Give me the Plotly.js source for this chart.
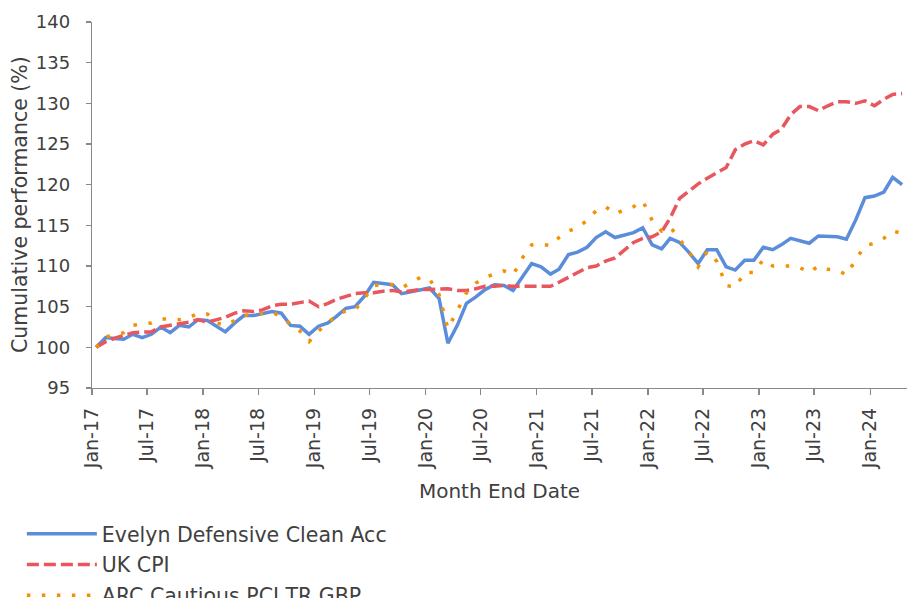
<!DOCTYPE html>
<html>
<head>
<meta charset="utf-8">
<script src="https://cdn.plot.ly/plotly-3.0.1.min.js"></script>
<style>html,body{margin:0;padding:0;background:#fff;}#chart{width:911px;height:598px;}</style>
</head>
<body>
<div id="chart"></div>
<script>
// Monthly data, Jan-17 .. Apr-24
var startYear = 2017;
var evelyn = [
  100.0, 101.2, 101.1, 101.0, 101.6, 101.2, 101.6, 102.5, 101.8, 102.7, 102.5, 103.4,
  103.3, 102.5, 101.9, 103.0, 103.9, 103.9, 104.1, 104.4, 104.2, 102.7, 102.6, 101.6,
  102.6, 103.0, 103.8, 104.8, 105.0, 106.3, 108.0, 107.8, 107.7, 106.6, 106.8, 107.1,
  107.3, 106.0, 100.5, 102.7, 105.4, 106.2, 107.1, 107.7, 107.6, 107.0, 108.7, 110.3,
  109.9, 109.0, 109.6, 111.4, 111.7, 112.3, 113.5, 114.2, 113.5, 113.8, 114.1, 114.7,
  112.6, 112.1, 113.4, 112.9, 111.7, 110.3, 112.0, 112.0, 109.9, 109.5, 110.7, 110.7,
  112.3, 112.0, 112.6, 113.4, 113.1, 112.8, 113.7, 113.7, 113.6, 113.3, 115.7, 118.4,
  118.6, 119.1, 120.9, 120.0
];
var ukCpi = [
  100.0, 100.7, 101.1, 101.4, 101.8, 101.9, 101.9, 102.5, 102.7, 102.8, 103.1, 103.4,
  103.1, 103.4, 103.7, 104.2, 104.5, 104.4, 104.6, 105.1, 105.3, 105.3, 105.5, 105.7,
  105.0, 105.4, 105.9, 106.3, 106.6, 106.7, 106.7, 106.9, 107.0, 106.8, 107.0, 107.1,
  107.1, 107.1, 107.2, 107.0, 107.0, 107.2, 107.5, 107.5, 107.6, 107.5, 107.5, 107.5,
  107.4, 107.5, 108.0, 108.6, 109.3, 109.8, 110.0, 110.6, 111.0, 112.0, 112.9, 113.4,
  113.6, 114.2, 115.9, 118.3, 119.2, 120.1, 120.8, 121.4, 122.1, 124.3, 125.0, 125.4,
  124.9, 126.2, 126.8, 128.6, 129.6, 129.6, 129.1, 129.7, 130.2, 130.2, 130.0, 130.3,
  129.7, 130.5, 131.1, 131.2
];
var arcCautious = [
  100.0, 101.3, 101.5, 101.8, 102.7, 102.8, 103.0, 103.5, 103.4, 103.4, 103.6, 104.2,
  104.1, 103.0, 102.7, 103.3, 103.9, 104.1, 104.2, 104.3, 103.8, 102.8, 102.0, 100.7,
  102.0, 103.0, 103.9, 104.5, 104.6, 106.0, 107.6, 107.7, 107.7, 107.3, 108.0, 108.6,
  108.4, 106.5, 102.3, 104.6, 106.7, 107.9, 108.6, 109.0, 109.4, 108.9, 111.0, 112.6,
  112.7, 112.5, 113.5, 114.3, 114.7, 115.6, 116.8, 117.3, 116.4, 116.9, 117.3, 118.0,
  115.6, 114.3, 114.8, 113.3, 111.8, 109.9, 111.8, 110.6, 107.6, 107.4, 109.2, 109.2,
  110.8, 110.0, 110.0, 110.0, 109.8, 109.2, 110.0, 109.6, 109.5, 108.9, 110.8, 112.5,
  112.8, 113.4, 114.3, 114.0
];
var tickDates = ['2017-01-01','2017-07-01','2018-01-01','2018-07-01','2019-01-01','2019-07-01',
  '2020-01-01','2020-07-01','2021-01-01','2021-07-01','2022-01-01','2022-07-01',
  '2023-01-01','2023-07-01','2024-01-01'];
var tickLabels = ['Jan-17','Jul-17','Jan-18','Jul-18','Jan-19','Jul-19','Jan-20','Jul-20',
  'Jan-21','Jul-21','Jan-22','Jul-22','Jan-23','Jul-23','Jan-24'];
var seriesNames = ['Evelyn Defensive Clean Acc', 'UK CPI', 'ARC Cautious PCI TR GBP'];
var xTitle = 'Month End Date';
var yTitle = 'Cumulative performance (%)';

// month dates (mid-month positions)
var dates = [];
for (var i = 0; i < evelyn.length; i++) {
  var y = startYear + Math.floor(i / 12);
  var m = (i % 12) + 1;
  dates.push(y + '-' + (m < 10 ? '0' + m : m) + '-15');
}

var FONT = 'DejaVu Sans, sans-serif';
var TXT = '#404040';

var traces = [
  {x: dates, y: evelyn, name: seriesNames[0], type: 'scatter', mode: 'lines', legendgroup: 'a',
   line: {color: '#5B8DDB', width: 3.5}},
  {x: dates, y: ukCpi, name: seriesNames[1], type: 'scatter', mode: 'lines', legendgroup: 'b',
   line: {color: '#E8575D', width: 3.5, dash: '12px,5px'}},
  {x: dates, y: arcCautious, name: seriesNames[2], type: 'scatter', mode: 'lines', legendgroup: 'c',
   line: {color: '#F39200', width: 3.5, dash: '3.5px,11.5px'}}
];

var layout = {
  width: 911, height: 598,
  margin: {l: 92, r: 4, t: 22, b: 210, autoexpand: false},
  paper_bgcolor: '#fff', plot_bgcolor: '#fff',
  font: {family: FONT, size: 19, color: TXT},
  showlegend: true,
  hovermode: false,
  xaxis: {
    type: 'date',
    range: ['2017-01-01', '2024-05-01'],
    tickmode: 'array', tickvals: tickDates, ticktext: tickLabels,
    tickangle: -90,
    ticks: 'outside', ticklen: 6, tickcolor: '#888', tickwidth: 1.3,
    showline: true, linecolor: '#888', linewidth: 1.3,
    showgrid: false, zeroline: false,
    ticklabelstandoff: 5,
    tickfont: {family: FONT, size: 19, color: TXT},
    title: {text: xTitle, font: {family: FONT, size: 20, color: TXT}, standoff: 15}
  },
  yaxis: {
    range: [95, 140], dtick: 5, tick0: 95,
    ticks: 'outside', ticklen: 5, tickcolor: '#888', tickwidth: 1.3,
    showline: true, linecolor: '#888', linewidth: 1.3,
    showgrid: false, zeroline: false,
    ticklabelstandoff: 12,
    tickfont: {family: FONT, size: 18, color: TXT}
  },
  annotations: [
    {text: yTitle, textangle: -90, showarrow: false,
     xref: 'paper', yref: 'paper', x: (20 - 92) / 815, y: 0.5,
     xanchor: 'center', yanchor: 'middle',
     font: {family: FONT, size: 20.5, color: TXT}}
  ],
  legend: {
    orientation: 'v',
    xref: 'container', yref: 'container',
    x: 0.024, xanchor: 'left',
    y: 1 - 514 / 598, yanchor: 'top',
    itemwidth: 70,
    tracegroupgap: 1,
    traceorder: 'grouped',
    font: {family: FONT, size: 20.5, color: TXT},
    bgcolor: 'rgba(0,0,0,0)', borderwidth: 0
  }
};

Plotly.newPlot('chart', traces, layout, {displayModeBar: false, staticPlot: true});
</script>
</body>
</html>
